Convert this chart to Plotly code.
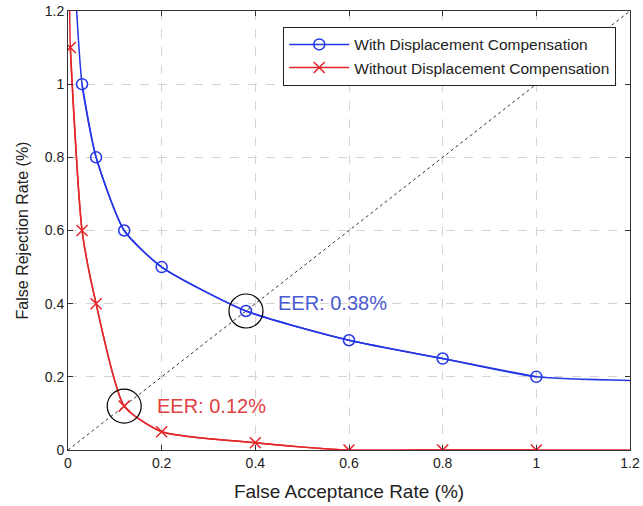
import plotly.graph_objects as go

# Data
far_with = [0.01, 0.03, 0.06, 0.12, 0.2, 0.38, 0.6, 0.8, 1.0, 1.2]
frr_with = [1.4, 1.0, 0.8, 0.6, 0.5, 0.38, 0.3, 0.25, 0.2, 0.19]
mark_with = [False, True, True, True, True, True, True, True, True, False]

far_without = [0.003, 0.005, 0.03, 0.06, 0.12, 0.2, 0.4, 0.6, 0.8, 1.0, 1.2]
frr_without = [1.3, 1.1, 0.6, 0.4, 0.12, 0.05, 0.02, 0.0, 0.0, 0.0, 0.0]
mark_without = [False, True, True, True, True, True, True, True, True, True, False]

eer_with = 0.38
eer_without = 0.12
ticks = [0, 0.2, 0.4, 0.6, 0.8, 1.0, 1.2]
tick_labels = ["0", "0.2", "0.4", "0.6", "0.8", "1", "1.2"]

BLUE = "#2436e6"
RED = "#e4262a"
FONT = "Liberation Sans, Arial, sans-serif"

fig = go.Figure()

# diagonal
fig.add_trace(go.Scatter(x=[0, 1.2], y=[0, 1.2], mode="lines",
                         line=dict(color="#333333", width=1, dash="dot"),
                         showlegend=False, hoverinfo="skip"))

def add_series(xs, ys, marks, color, symbol, name):
    fig.add_trace(go.Scatter(x=xs, y=ys, mode="lines",
                             line=dict(color=color, width=1.5, shape="spline", smoothing=0.6),
                             showlegend=False, hoverinfo="skip"))
    mx = [x for x, m in zip(xs, marks) if m]
    my = [y for y, m in zip(ys, marks) if m]
    fig.add_trace(go.Scatter(x=mx, y=my, mode="markers+lines", name=name,
                             line=dict(color=color, width=1.5, shape="spline", smoothing=0.6),
                             marker=dict(symbol=symbol, size=11, color=color,
                                         line=dict(color=color, width=1.5))))

add_series(far_with, frr_with, mark_with, BLUE, "circle-open", "With Displacement Compensation")
add_series(far_without, frr_without, mark_without, RED, "x-thin-open", "Without Displacement Compensation")

# EER circles
for v in [eer_with, eer_without]:
    fig.add_shape(type="circle", xref="x", yref="y", xsizemode="pixel", ysizemode="pixel",
                  xanchor=v, yanchor=v, x0=-17, x1=17, y0=-17, y1=17,
                  line=dict(color="black", width=1.2))

fig.add_annotation(x=eer_with, y=eer_with, xshift=30, yshift=8, text=f"EER: {eer_with:.2f}%",
                   showarrow=False, xanchor="left", yanchor="middle",
                   font=dict(family=FONT, size=20, color="#4a5ad0"))
fig.add_annotation(x=eer_without, y=eer_without, xshift=31, yshift=0, text=f"EER: {eer_without:.2f}%",
                   showarrow=False, xanchor="left", yanchor="middle",
                   font=dict(family=FONT, size=20, color="#e04040"))

axis_common = dict(range=[0, 1.2], tickvals=ticks, ticktext=tick_labels, automargin=False,
                   ticklabeloverflow="allow",
                   showgrid=True, gridcolor="#d4d4d4", griddash="dash", gridwidth=1,
                   zeroline=False, showline=True, linecolor="#333333", linewidth=1,
                   mirror="ticks", ticks="inside", ticklen=5, tickcolor="#333333",
                   tickfont=dict(family=FONT, size=14, color="#222222"))

fig.update_xaxes(**axis_common,
                 title=dict(text="False Acceptance Rate (%)", standoff=14,
                            font=dict(family=FONT, size=19, color="#222222")))
fig.update_yaxes(**axis_common,
                 title=dict(text="False Rejection Rate (%)", standoff=12,
                            font=dict(family=FONT, size=16, color="#222222")))

fig.update_layout(
    width=643, height=506,
    margin=dict(l=68, r=13, t=11, b=56),
    plot_bgcolor="white", paper_bgcolor="white",
    legend=dict(x=0.383, y=0.964, xanchor="left", yanchor="top",
                bgcolor="white", bordercolor="#222222", borderwidth=1,
                font=dict(family=FONT, size=15.5, color="#222222"),
                tracegroupgap=0, itemwidth=60),
    font=dict(family=FONT),
)

fig.write_html("out.html", config={"displayModeBar": False},
               post_script="document.body.style.margin='0';")
